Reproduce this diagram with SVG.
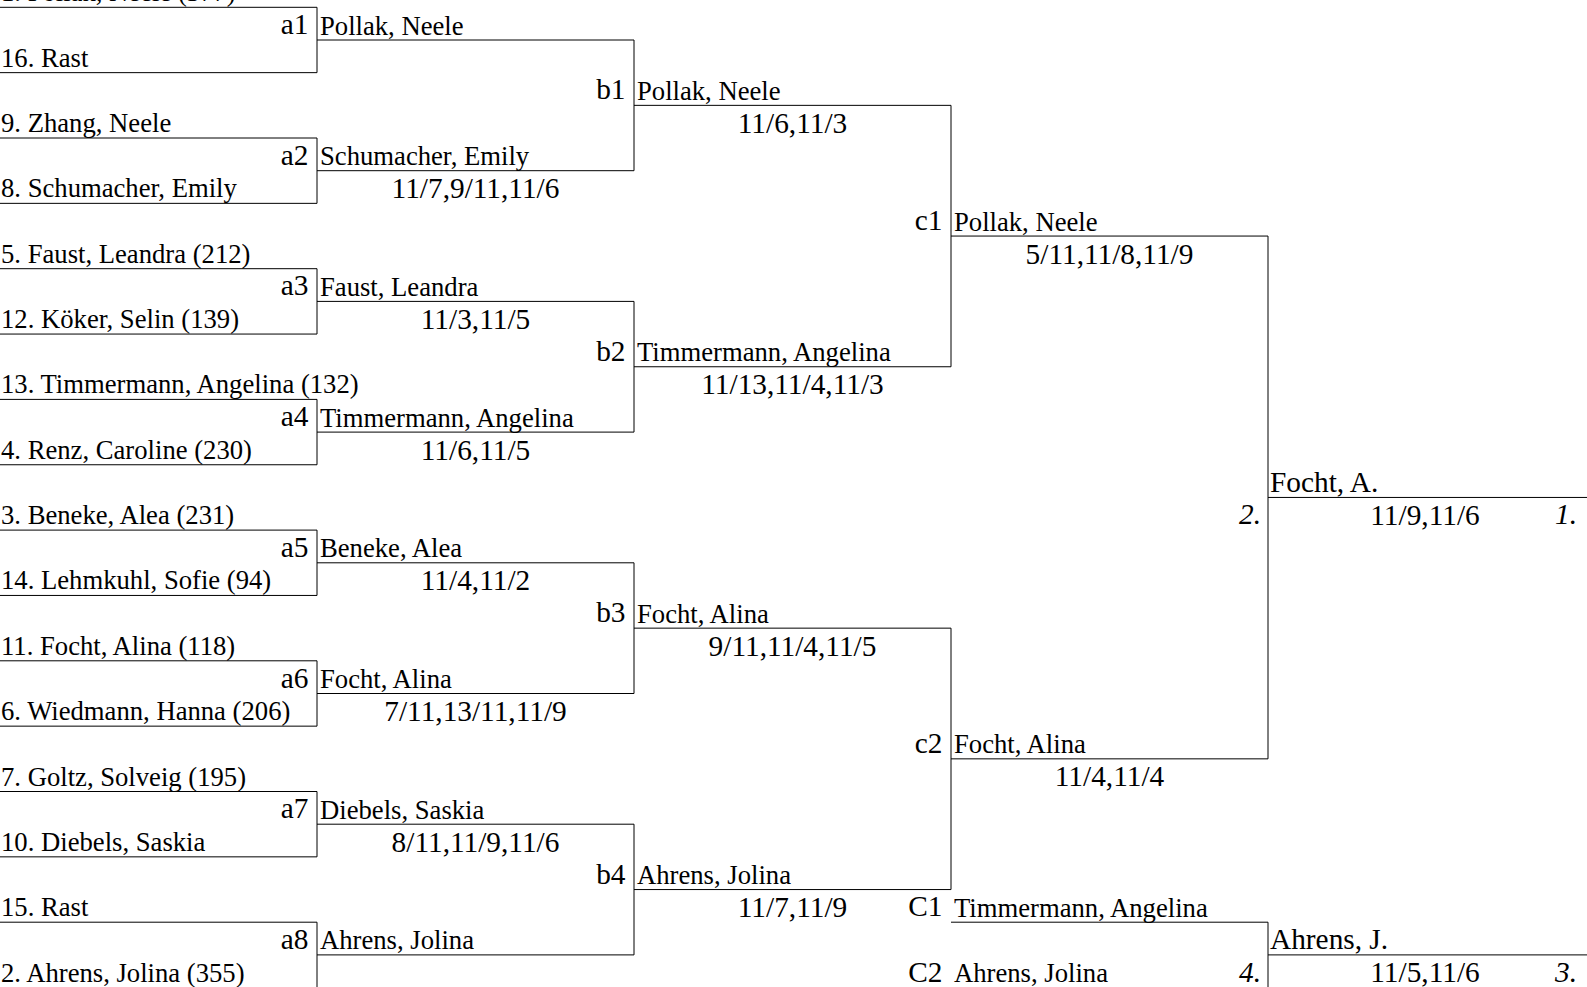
<svg xmlns="http://www.w3.org/2000/svg" width="1587" height="987" viewBox="0 0 1587 987">
<style>
text{font-family:"Liberation Serif","Times New Roman",serif;fill:#000}
.n{font-size:26.67px}
.l{font-size:29.33px;text-anchor:end}
.s{font-size:29.33px;text-anchor:middle}
.w{font-size:29.33px}
.r{font-size:29.33px;font-style:italic;text-anchor:end}
.c{fill:none;stroke:#000;stroke-width:1}
</style>
<rect width="1587" height="987" fill="#fff"/>
<g id="connectors" class="c">
<path d="M0,7.3H317V72.65H0"/>
<path d="M0,138H317V203.35H0"/>
<path d="M0,268.7H317V334.05H0"/>
<path d="M0,399.4H317V464.75H0"/>
<path d="M0,530.1H317V595.45H0"/>
<path d="M0,660.8H317V726.15H0"/>
<path d="M0,791.5H317V856.85H0"/>
<path d="M0,922.2H317V987.55H0"/>
<path d="M317,40H634V170.7H317"/>
<path d="M317,301.4H634V432.1H317"/>
<path d="M317,562.8H634V693.5H317"/>
<path d="M317,824.2H634V954.9H317"/>
<path d="M634,105.35H951V366.75H634"/>
<path d="M634,628.15H951V889.55H634"/>
<path d="M951,236.05H1268V758.85H951"/>
<path d="M1268,497.45H1587"/>
<path d="M951,922.2H1268V987.55H951"/>
<path d="M1268,954.9H1587"/>
</g>
<g id="entries">
<text class="n" x="1" y="1.3">1. Pollak, Neele (377)</text>
<text class="n" x="1" y="66.65">16. Rast</text>
<text class="n" x="1" y="132">9. Zhang, Neele</text>
<text class="n" x="1" y="197.35">8. Schumacher, Emily</text>
<text class="n" x="1" y="262.7">5. Faust, Leandra (212)</text>
<text class="n" x="1" y="328.05">12. Köker, Selin (139)</text>
<text class="n" x="1" y="393.4">13. Timmermann, Angelina (132)</text>
<text class="n" x="1" y="458.75">4. Renz, Caroline (230)</text>
<text class="n" x="1" y="524.1">3. Beneke, Alea (231)</text>
<text class="n" x="1" y="589.45">14. Lehmkuhl, Sofie (94)</text>
<text class="n" x="1" y="654.8">11. Focht, Alina (118)</text>
<text class="n" x="1" y="720.15">6. Wiedmann, Hanna (206)</text>
<text class="n" x="1" y="785.5">7. Goltz, Solveig (195)</text>
<text class="n" x="1" y="850.85">10. Diebels, Saskia</text>
<text class="n" x="1" y="916.2">15. Rast</text>
<text class="n" x="1" y="981.55">2. Ahrens, Jolina (355)</text>
</g>
<g id="a1"><text class="l" x="308.5" y="34">a1</text><text class="n" x="320" y="34.5">Pollak, Neele</text></g>
<g id="a2"><text class="l" x="308.5" y="164.7">a2</text><text class="n" x="320" y="165.2">Schumacher, Emily</text><text class="s" x="475.5" y="198.2">11/7,9/11,11/6</text></g>
<g id="a3"><text class="l" x="308.5" y="295.4">a3</text><text class="n" x="320" y="295.9">Faust, Leandra</text><text class="s" x="475.5" y="328.9">11/3,11/5</text></g>
<g id="a4"><text class="l" x="308.5" y="426.1">a4</text><text class="n" x="320" y="426.6">Timmermann, Angelina</text><text class="s" x="475.5" y="459.6">11/6,11/5</text></g>
<g id="a5"><text class="l" x="308.5" y="556.8">a5</text><text class="n" x="320" y="557.3">Beneke, Alea</text><text class="s" x="475.5" y="590.3">11/4,11/2</text></g>
<g id="a6"><text class="l" x="308.5" y="687.5">a6</text><text class="n" x="320" y="688">Focht, Alina</text><text class="s" x="475.5" y="721">7/11,13/11,11/9</text></g>
<g id="a7"><text class="l" x="308.5" y="818.2">a7</text><text class="n" x="320" y="818.7">Diebels, Saskia</text><text class="s" x="475.5" y="851.7">8/11,11/9,11/6</text></g>
<g id="a8"><text class="l" x="308.5" y="948.9">a8</text><text class="n" x="320" y="949.4">Ahrens, Jolina</text></g>
<g id="b1"><text class="l" x="625.5" y="99.35">b1</text><text class="n" x="637" y="99.85">Pollak, Neele</text><text class="s" x="792.5" y="132.85">11/6,11/3</text></g>
<g id="b2"><text class="l" x="625.5" y="360.75">b2</text><text class="n" x="637" y="361.25">Timmermann, Angelina</text><text class="s" x="792.5" y="394.25">11/13,11/4,11/3</text></g>
<g id="b3"><text class="l" x="625.5" y="622.15">b3</text><text class="n" x="637" y="622.65">Focht, Alina</text><text class="s" x="792.5" y="655.65">9/11,11/4,11/5</text></g>
<g id="b4"><text class="l" x="625.5" y="883.55">b4</text><text class="n" x="637" y="884.05">Ahrens, Jolina</text><text class="s" x="792.5" y="917.05">11/7,11/9</text></g>
<g id="c1"><text class="l" x="942.5" y="230.05">c1</text><text class="n" x="954" y="230.55">Pollak, Neele</text><text class="s" x="1109.5" y="263.55">5/11,11/8,11/9</text></g>
<g id="c2"><text class="l" x="942.5" y="752.85">c2</text><text class="n" x="954" y="753.35">Focht, Alina</text><text class="s" x="1109.5" y="786.35">11/4,11/4</text></g>
<g id="final"><text class="w" x="1270" y="492">Focht, A.</text><text class="s" x="1425" y="524.5">11/9,11/6</text><text class="r" x="1261" y="524">2.</text><text class="r" x="1577" y="524">1.</text></g>
<g id="C1"><text class="l" x="942.5" y="916.2">C1</text><text class="n" x="954" y="916.7">Timmermann, Angelina</text></g>
<g id="C2"><text class="l" x="942.5" y="981.55">C2</text><text class="n" x="954" y="982">Ahrens, Jolina</text></g>
<g id="third"><text class="w" x="1270" y="949.4">Ahrens, J.</text><text class="s" x="1425" y="982">11/5,11/6</text><text class="r" x="1261" y="981.5">4.</text><text class="r" x="1577" y="981.5">3.</text></g>
</svg>
